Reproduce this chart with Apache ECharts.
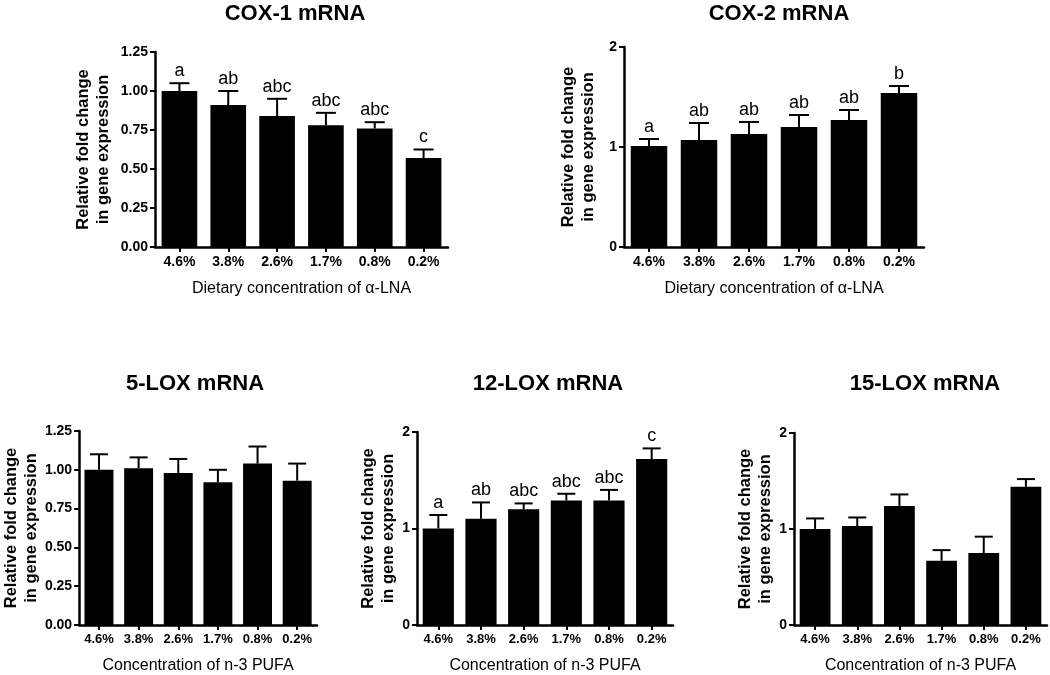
<!DOCTYPE html>
<html>
<head>
<meta charset="utf-8">
<script src="https://cdn.jsdelivr.net/npm/echarts@6/dist/echarts.min.js"></script>
<style>
html,body{margin:0;padding:0;background:#fff;}
#chart{width:1050px;height:675px;}
</style>
</head>
<body>
<div id="chart"></div>
<script>
// ---- data ----
const categories = ['4.6%', '3.8%', '2.6%', '1.7%', '0.8%', '0.2%'];

const cox1Mean = [1.00, 0.91, 0.84, 0.78, 0.76, 0.57];
const cox1Sem = [0.05, 0.09, 0.11, 0.08, 0.04, 0.055];
const cox1Letters = ['a', 'ab', 'abc', 'abc', 'abc', 'c'];

const cox2Mean = [1.01, 1.07, 1.13, 1.20, 1.27, 1.54];
const cox2Sem = [0.07, 0.17, 0.12, 0.12, 0.10, 0.07];
const cox2Letters = ['a', 'ab', 'ab', 'ab', 'ab', 'b'];

const lox5Mean = [1.00, 1.01, 0.98, 0.92, 1.04, 0.93];
const lox5Sem = [0.10, 0.07, 0.09, 0.08, 0.11, 0.11];
const lox5Letters = ['', '', '', '', '', ''];

const lox12Mean = [1.00, 1.10, 1.20, 1.29, 1.29, 1.72];
const lox12Sem = [0.14, 0.17, 0.06, 0.07, 0.11, 0.11];
const lox12Letters = ['a', 'ab', 'abc', 'abc', 'abc', 'c'];

const lox15Mean = [1.00, 1.03, 1.24, 0.67, 0.75, 1.44];
const lox15Sem = [0.11, 0.09, 0.12, 0.11, 0.17, 0.08];
const lox15Letters = ['', '', '', '', '', ''];

const titles = ['COX-1 mRNA', 'COX-2 mRNA', '5-LOX mRNA', '12-LOX mRNA', '15-LOX mRNA'];
const xNames = ['Dietary concentration of \u03b1-LNA', 'Dietary concentration of \u03b1-LNA',
  'Concentration of n-3 PUFA', 'Concentration of n-3 PUFA', 'Concentration of n-3 PUFA'];
const yName = 'Relative fold change\nin gene expression';
const yMax = [1.25, 2, 1.25, 2, 2];
const yInterval = [0.25, 1, 0.25, 1, 1];

// ---- layout ----
const FONT = '"Liberation Sans", Arial, Helvetica, sans-serif';
const panels = [
  {mean: cox1Mean, sem: cox1Sem, letters: cox1Letters, grid: {left: 155, top: 52, width: 293, height: 195}, nameGap: 42, titleX: 290, titleY: -2, xGap: 34, cap: 10, catSize: 14},
  {mean: cox2Mean, sem: cox2Sem, letters: cox2Letters, grid: {left: 624, top: 47, width: 300, height: 200}, nameGap: 26, titleX: 774, titleY: -2, xGap: 34, cap: 10, catSize: 14},
  {mean: lox5Mean, sem: lox5Sem, letters: lox5Letters, grid: {left: 63, top: 431, width: 254, height: 199}, nameGap: 32, titleX: 190, titleY: 368, xGap: 33, cap: 9, catSize: 13},
  {mean: lox12Mean, sem: lox12Sem, letters: lox12Letters, grid: {left: 417, top: 432, width: 256, height: 197}, nameGap: 14, titleX: 543, titleY: 368, xGap: 33, cap: 9, catSize: 13},
  {mean: lox15Mean, sem: lox15Sem, letters: lox15Letters, grid: {left: 794, top: 433, width: 253, height: 196}, nameGap: 15, titleX: 920, titleY: 368, xGap: 33, cap: 9, catSize: 13}
];

const grid = [], xAxis = [], yAxis = [], series = [], title = [];
panels.forEach((p, i) => {
  grid.push(Object.assign({containLabel: false}, p.grid));
  title.push({
    text: titles[i],
    left: p.titleX,
    textAlign: 'center',
    top: p.titleY,
    textStyle: {fontFamily: FONT, fontWeight: 'bold', fontSize: 22, color: '#000'}
  });
  xAxis.push({
    type: 'category', gridIndex: i, data: categories,
    name: xNames[i], nameLocation: 'middle', nameGap: p.xGap,
    nameTextStyle: {fontFamily: FONT, fontSize: 16, color: '#000'},
    axisLine: {show: true, lineStyle: {color: '#000', width: 2.5}},
    axisTick: {show: true, alignWithLabel: true, length: 5, lineStyle: {color: '#000', width: 2}},
    axisLabel: {fontFamily: FONT, fontWeight: 'bold', fontSize: p.catSize, color: '#000', margin: 8},
    splitLine: {show: false}
  });
  yAxis.push({
    type: 'value', gridIndex: i, min: 0, max: yMax[i], interval: yInterval[i],
    name: yName, nameLocation: 'middle', nameRotate: 90, nameGap: p.nameGap,
    nameTextStyle: {fontFamily: FONT, fontWeight: 'bold', fontSize: 16.5, lineHeight: 20, color: '#000', align: 'center'},
    axisLine: {show: true, lineStyle: {color: '#000', width: 2.5}},
    axisTick: {show: true, length: 5, lineStyle: {color: '#000', width: 2}},
    axisLabel: {fontFamily: FONT, fontWeight: 'bold', fontSize: 14, color: '#000', margin: 7,
      formatter: v => yInterval[i] < 1 ? v.toFixed(2) : String(v)},
    splitLine: {show: false}
  });
  series.push({
    type: 'bar', xAxisIndex: i, yAxisIndex: i, data: p.mean,
    barWidth: '73%', itemStyle: {color: '#000'}, silent: true, z: 2
  });
  series.push({
    type: 'custom', xAxisIndex: i, yAxisIndex: i, z: 3, silent: true,
    data: p.mean.map((m, k) => [k, m, p.sem[k]]),
    encode: {x: 0, y: 1},
    renderItem: (params, api) => {
      const k = api.value(0), m = api.value(1), e = api.value(2);
      const base = api.coord([k, m]);
      const top = api.coord([k, m + e]);
      const children = [
        {type: 'line', shape: {x1: base[0], y1: base[1], x2: top[0], y2: top[1]}, style: {stroke: '#000', lineWidth: 2}},
        {type: 'line', shape: {x1: top[0] - p.cap, y1: top[1], x2: top[0] + p.cap, y2: top[1]}, style: {stroke: '#000', lineWidth: 2}}
      ];
      const letter = p.letters[params.dataIndex];
      if (letter) {
        children.push({type: 'text', x: top[0], y: top[1] - 3,
          style: {text: letter, fontFamily: FONT, fontSize: 18, fill: '#000', align: 'center', verticalAlign: 'bottom'}});
      }
      return {type: 'group', children};
    }
  });
});

const chart = echarts.init(document.getElementById('chart'), null, {renderer: 'canvas'});
chart.setOption({
  backgroundColor: '#fff',
  animation: false,
  title, grid, xAxis, yAxis, series
});
</script>
</body>
</html>
